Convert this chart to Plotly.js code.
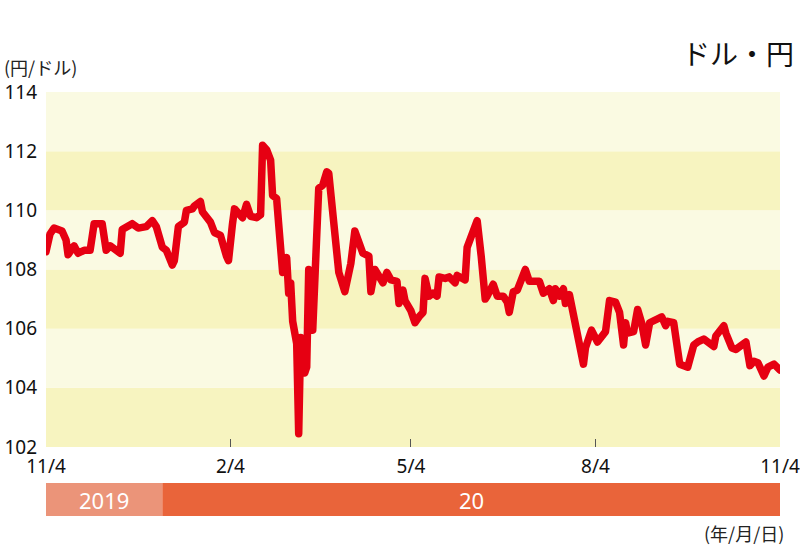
<!DOCTYPE html>
<html>
<head>
<meta charset="utf-8">
<script src="https://cdn.plot.ly/plotly-3.0.1.min.js"></script>
<style>
html,body{margin:0;padding:0;background:#fff;}
#chart{width:800px;height:547px;}
#chart path.js-line{stroke-linejoin:round;stroke-linecap:round;}
</style>
</head>
<body>
<div id="chart"></div>
<script>
// ---- data ----
const dates = [
 "2019-11-04","2019-11-06","2019-11-08","2019-11-12","2019-11-14","2019-11-15","2019-11-18","2019-11-20","2019-11-23","2019-11-26",
 "2019-11-27","2019-11-28","2019-12-02","2019-12-04","2019-12-06","2019-12-11","2019-12-12","2019-12-14","2019-12-17","2019-12-20",
 "2019-12-24","2019-12-27","2019-12-29","2020-01-01","2020-01-03","2020-01-06","2020-01-07","2020-01-09","2020-01-12","2020-01-13",
 "2020-01-16","2020-01-17","2020-01-20","2020-01-21","2020-01-25","2020-01-27","2020-01-30","2020-02-02","2020-02-03","2020-02-05",
 "2020-02-06","2020-02-10","2020-02-12","2020-02-14","2020-02-17","2020-02-19","2020-02-20","2020-02-22","2020-02-24","2020-02-25",
 "2020-02-27","2020-02-28","2020-03-01","2020-03-03","2020-03-04","2020-03-05","2020-03-06","2020-03-08","2020-03-09","2020-03-10",
 "2020-03-12","2020-03-13","2020-03-14","2020-03-16","2020-03-17","2020-03-19","2020-03-21","2020-03-23","2020-03-24","2020-03-26",
 "2020-03-29","2020-04-01","2020-04-04","2020-04-06","2020-04-09","2020-04-10","2020-04-13","2020-04-14","2020-04-16","2020-04-18",
 "2020-04-20","2020-04-22","2020-04-24","2020-04-27","2020-04-28","2020-04-30","2020-05-01","2020-05-04","2020-05-06","2020-05-08",
 "2020-05-10","2020-05-11","2020-05-13","2020-05-15","2020-05-17","2020-05-18","2020-05-21","2020-05-23","2020-05-26","2020-05-27",
 "2020-05-29","2020-05-31","2020-06-01","2020-06-04","2020-06-06","2020-06-08","2020-06-10","2020-06-11","2020-06-14","2020-06-16",
 "2020-06-19","2020-06-21","2020-06-22","2020-06-24","2020-06-26","2020-06-30","2020-07-02","2020-07-07","2020-07-09","2020-07-12",
 "2020-07-14","2020-07-15","2020-07-17","2020-07-19","2020-07-20","2020-07-22","2020-07-25","2020-07-27","2020-07-29","2020-07-30",
 "2020-08-02","2020-08-05","2020-08-09","2020-08-11","2020-08-14","2020-08-16","2020-08-18","2020-08-19","2020-08-20","2020-08-23",
 "2020-08-25","2020-08-27","2020-08-29","2020-08-31","2020-09-03","2020-09-06","2020-09-08","2020-09-09","2020-09-12","2020-09-15",
 "2020-09-19","2020-09-22","2020-09-24","2020-09-27","2020-09-29","2020-10-02","2020-10-03","2020-10-07","2020-10-08","2020-10-11",
 "2020-10-13","2020-10-16","2020-10-18","2020-10-20","2020-10-22","2020-10-24","2020-10-27","2020-10-29","2020-11-01","2020-11-04"
];
const usdJpy = [
 108.6,109.2,109.4,109.3,109.0,108.5,108.8,108.55,108.65,108.65,
 109.1,109.55,109.55,108.65,108.8,108.55,109.35,109.45,109.55,109.4,
 109.45,109.65,109.45,108.75,108.65,108.15,108.3,109.45,109.6,110.0,
 110.05,110.15,110.3,109.95,109.6,109.25,109.15,108.45,108.3,109.55,
 110.05,109.75,110.2,109.8,109.75,109.85,112.2,112.05,111.7,110.5,
 110.4,109.55,107.9,108.4,107.2,107.55,106.25,105.5,102.45,105.7,
 104.5,104.7,108.0,105.95,108.05,110.75,110.85,111.3,111.25,109.65,
 107.9,107.25,108.2,109.3,108.85,108.55,108.45,107.25,108.0,107.7,
 107.55,107.9,107.65,107.6,106.85,107.3,106.95,106.6,106.2,106.4,
 106.55,107.7,107.1,107.2,107.1,107.75,107.7,107.75,107.55,107.8,
 107.75,107.65,108.75,109.2,109.65,108.45,107.0,107.1,107.5,107.1,
 107.1,106.9,106.55,107.25,107.3,108.0,107.6,107.6,107.2,107.35,
 106.95,107.35,107.1,107.35,106.85,107.15,106.2,105.3,104.8,105.35,
 105.95,105.55,105.9,106.95,106.9,106.55,105.45,106.2,105.85,105.9,
 106.65,106.2,105.45,106.2,106.3,106.4,106.1,106.25,106.2,104.8,
 104.7,105.45,105.55,105.65,105.55,105.4,105.75,106.1,105.85,105.35,
 105.3,105.5,105.55,104.75,104.9,104.85,104.4,104.7,104.8,104.6
];
const xTickDates = ["2019-11-04","2020-02-04","2020-05-04","2020-08-04","2020-11-04"];
const xTickLabels = ["11/4","2/4","5/4","8/4","11/4"];
const yTicks = [102,104,106,108,110,112,114];
const yearStarts = ["2019-11-04","2020-01-01"];
const yearEnds = ["2020-01-01","2020-11-04"];
const yearLabels = ["2019","20"];
const yearColors = ["#eb9479","#e9643a"];
const bandColors = ["#f7f4c0","#fafae2"];

// ---- build ----
const shapes = [];
for (let i = 0; i < yTicks.length - 1; i++) {
  shapes.push({type:"rect", xref:"paper", yref:"y", x0:0, x1:1, y0:yTicks[i], y1:yTicks[i+1],
    fillcolor: bandColors[i % 2], line:{width:0}, layer:"below"});
}
const annotations = [];
const toMs = s => new Date(s + "T00:00:00Z").getTime();
for (let i = 0; i < yearLabels.length; i++) {
  shapes.push({type:"rect", xref:"x", yref:"paper", x0:yearStarts[i], x1:yearEnds[i],
    y0:-0.1944, y1:-0.1014, fillcolor:yearColors[i], line:{width:0}, layer:"above"});
  const mid = new Date((toMs(yearStarts[i]) + toMs(yearEnds[i])) / 2).toISOString().slice(0,10);
  annotations.push({xref:"x", yref:"paper", x:mid, y:-0.148, text:yearLabels[i], showarrow:false,
    font:{family:"Noto Sans, sans-serif", size:22, color:"#ffffff"}, xanchor:"center", yanchor:"middle"});
}
annotations.push({xref:"paper", yref:"paper", x:(2-46)/734, y:(447-67)/355, xanchor:"left", yanchor:"middle",
  text:"(円/ドル)", showarrow:false, font:{family:"Noto Sans CJK JP, sans-serif", size:18, color:"#222"}});
annotations.push({xref:"paper", yref:"paper", x:(796-46)/734, y:(447-53)/355, xanchor:"right", yanchor:"middle",
  text:"ドル・円", showarrow:false, font:{family:"Noto Sans CJK JP, sans-serif", size:28, color:"#111"}});
annotations.push({xref:"paper", yref:"paper", x:(786-46)/734, y:(447-533)/355, xanchor:"right", yanchor:"middle",
  text:"(年/月/日)", showarrow:false, font:{family:"Noto Sans CJK JP, sans-serif", size:18, color:"#222"}});

const trace = {
  x: dates, y: usdJpy, type:"scatter", mode:"lines",
  line:{color:"#e60012", width:7.5}, hoverinfo:"skip"
};

const layout = {
  width:800, height:547,
  margin:{l:46, r:20, t:92, b:100},
  paper_bgcolor:"#ffffff", plot_bgcolor:"#ffffff",
  showlegend:false,
  xaxis:{type:"date", range:["2019-11-04","2020-11-04"], tickmode:"array",
    tickvals:xTickDates, ticktext:xTickLabels, ticks:"inside", ticklen:8, tickcolor:"#555", tickwidth:1,
    showgrid:false, zeroline:false, showline:false, ticklabelstandoff:6,
    tickfont:{family:"Noto Sans, sans-serif", size:19, color:"#111"}},
  yaxis:{range:[102,114], tickmode:"array", tickvals:yTicks, ticks:"", showgrid:false, zeroline:false,
    showline:false, ticklabelstandoff:8,
    tickfont:{family:"Noto Sans, sans-serif", size:19, color:"#111"}},
  shapes: shapes,
  annotations: annotations
};
Plotly.newPlot("chart", [trace], layout, {staticPlot:true, displayModeBar:false});
</script>
</body>
</html>
